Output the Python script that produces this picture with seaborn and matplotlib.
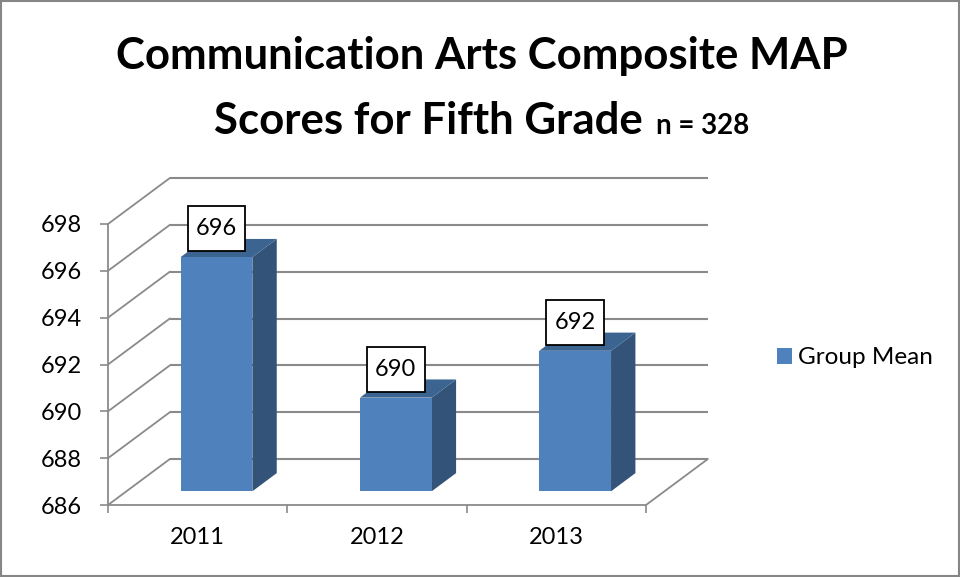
import matplotlib
matplotlib.use("Agg")
import matplotlib.pyplot as plt
import pandas as pd
import seaborn as sns
from matplotlib.patches import Polygon, Rectangle
from matplotlib.path import Path

# Chart values
years = ["2011", "2012", "2013"]
group_mean = [696, 690, 692]
series_name = "Group Mean"
y_ticks = [686, 688, 690, 692, 694, 696, 698]

# Colours
FRONT = "#4F81BD"
SIDE = "#335478"
TOP = "#3C6491"
GRID = "#8A8A8A"

# Oblique projection, in data units of the category and value axes
WALL_DX, WALL_DY = 0.345, 1.964    # floor depth
BAR_SX, BAR_SY = 0.105, 0.585      # bars stand part-way into the floor
BAR_DX, BAR_DY = 0.136, 0.777      # bar depth


def label_box(x0, y0, width, height, mutation_size):
    """Rectangle with separate horizontal and vertical padding for value labels."""
    px, py = 0.35 * mutation_size, 0.51 * mutation_size
    left, right = x0 - px, x0 + width + px
    bottom, top = y0 - py, y0 + height + py
    return Path([(left, bottom), (right, bottom), (right, top), (left, top), (left, bottom)],
                closed=True)


sns.set_theme(style="white")
plt.rcParams["font.family"] = ["Lato", "DejaVu Sans"]

W, H = 960, 577
fig = plt.figure(figsize=(W / 100, H / 100), dpi=100, facecolor="white")
ax = fig.add_axes([108 / W, 1 - 505 / H, (646 - 108) / W, (505 - 224) / H])

df = pd.DataFrame({"Year": years, "Value": group_mean, "Series": series_name})
sns.barplot(data=df, x="Year", y="Value", hue="Series", palette=[FRONT], saturation=1,
            width=0.4, legend=True, ax=ax, zorder=5, linewidth=0)

ax.set_xlim(-0.5, 2.5)
ax.set_ylim(y_ticks[0], y_ticks[-1])
floor = y_ticks[0]

# Back wall gridlines and the side wall diagonals
for tick in y_ticks:
    ax.plot([-0.5 + WALL_DX, 2.5 + WALL_DX], [tick + WALL_DY] * 2, color=GRID,
            lw=1.5, clip_on=False, zorder=1, solid_capstyle="butt")
    ax.plot([-0.5, -0.5 + WALL_DX], [tick, tick + WALL_DY], color=GRID,
            lw=1.3, clip_on=False, zorder=1)
ax.plot([2.5, 2.5 + WALL_DX], [floor, floor + WALL_DY], color=GRID,
        lw=1.3, clip_on=False, zorder=1)

# Extrude each bar: front face, right side, top
for bar, value in zip(ax.patches, group_mean):
    x0 = bar.get_x() + BAR_SX
    x1 = x0 + bar.get_width()
    y0 = floor + BAR_SY
    y1 = value + BAR_SY
    bar.set_bounds(x0, y0, x1 - x0, y1 - y0)
    bar.set_clip_on(False)
    ax.add_patch(Polygon([(x1, y0), (x1 + BAR_DX, y0 + BAR_DY),
                          (x1 + BAR_DX, y1 + BAR_DY), (x1, y1)],
                         closed=True, fc=SIDE, ec="none", zorder=4, clip_on=False))
    ax.add_patch(Polygon([(x0, y1), (x0 + BAR_DX, y1 + BAR_DY),
                          (x1 + BAR_DX, y1 + BAR_DY), (x1, y1)],
                         closed=True, fc=TOP, ec="none", zorder=4, clip_on=False))
    ax.annotate(str(value), xy=((x0 + x1) / 2, y1), xytext=(0, 20.5),
                textcoords="offset points", ha="center", va="center",
                fontsize=17, color="black", zorder=8,
                bbox=dict(boxstyle=label_box, fc="white", ec="black", lw=1.3))

# Axes: category ticks fall between the bars
for side in ("top", "right"):
    ax.spines[side].set_visible(False)
for side in ("left", "bottom"):
    ax.spines[side].set_color(GRID)
    ax.spines[side].set_linewidth(1.3)
ax.set_xticks([0, 1, 2], years)
ax.set_xticks([-0.5, 0.5, 1.5, 2.5], minor=True)
ax.set_yticks(y_ticks, [str(t) for t in y_ticks])
ax.tick_params(axis="x", which="major", length=0, pad=16, labelsize=17, colors="black")
ax.tick_params(axis="x", which="minor", length=5.8, width=1.2, color=GRID,
               bottom=True, direction="out")
ax.tick_params(axis="y", length=5.8, width=1.2, color=GRID, pad=13, labelsize=17,
               labelcolor="black", left=True, direction="out")
ax.set_xlabel("")
ax.set_ylabel("")

# Legend to the right of the plot
handles, labels = ax.get_legend_handles_labels()
ax.get_legend().remove()
fig.legend(handles, labels, loc="center left", bbox_to_anchor=(777 / W, 1 - 358 / H),
           frameon=False, fontsize=17.5, handlelength=0.62, handleheight=0.62,
           handletextpad=0.25, labelcolor="black", borderpad=0, borderaxespad=0)

# Title
fig.text(482 / W, 1 - 69 / H, "Communication Arts Composite MAP", ha="center", va="baseline",
         fontsize=31.5, fontweight="bold", color="black")
fig.text(214 / W, 1 - 134 / H, "Scores for Fifth Grade", ha="left", va="baseline",
         fontsize=31.5, fontweight="bold", color="black")
fig.text(656 / W, 1 - 134 / H, "n = 328", ha="left", va="baseline",
         fontsize=20, fontweight="bold", color="black")

# Chart area border
fig.add_artist(Rectangle((1 / W, 1.5 / H), (W - 2) / W, (H - 2) / H, transform=fig.transFigure,
                         fc="none", ec="#868686", lw=1.5))

fig.savefig("out.png", dpi=100, facecolor="white")
